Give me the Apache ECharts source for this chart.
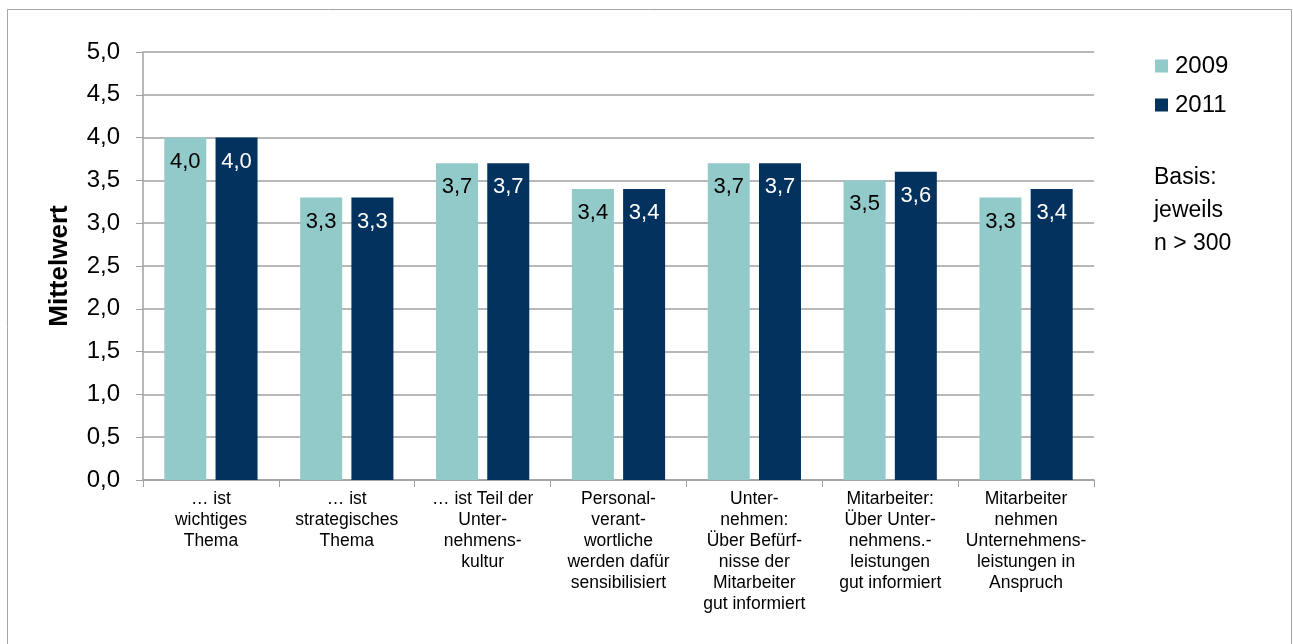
<!DOCTYPE html>
<html>
<head>
<meta charset="utf-8">
<script src="https://cdn.jsdelivr.net/npm/echarts@6/dist/echarts.min.js"></script>
<style>
	html, body { margin: 0; padding: 0; background: #fff; }
	#main { width: 1293px; height: 644px; }
</style>
</head>
<body>
<div id="main"></div>
<script>
var categories = [
	'… ist\nwichtiges\nThema',
	'… ist\nstrategisches\nThema',
	'… ist Teil der\nUnter-\nnehmens-\nkultur',
	'Personal-\nverant-\nwortliche\nwerden dafür\nsensibilisiert',
	'Unter-\nnehmen:\nÜber Befürf-\nnisse der\nMitarbeiter\ngut informiert',
	'Mitarbeiter:\nÜber Unter-\nnehmens.-\nleistungen\ngut informiert',
	'Mitarbeiter\nnehmen\nUnternehmens-\nleistungen in\nAnspruch'
];
var values2009 = [4.0, 3.3, 3.7, 3.4, 3.7, 3.5, 3.3];
var values2011 = [4.0, 3.3, 3.7, 3.4, 3.7, 3.6, 3.4];
var yTicks = { min: 0, max: 5, step: 0.5 };

function fmt(v) {
	return v.toFixed(1).replace('.', ',');
}

var myChart = echarts.init(document.getElementById('main'));
var font = 'Liberation Sans, Arial, sans-serif';
var option = {
	animation: false,
	textStyle: { fontFamily: font },
	graphic: [{
		type: 'rect',
		shape: { x: 7.5, y: 9.5, width: 1284, height: 660 },
		style: { fill: 'none', stroke: '#a6a6a6', lineWidth: 1 },
		silent: true
	}, {
		type: 'text',
		left: 1154,
		top: 161,
		style: {
			text: 'Basis:\njeweils\nn > 300',
			font: '23px ' + font,
			lineHeight: 33,
			fill: '#000'
		}
	}],
	legend: {
		orient: 'vertical',
		left: 1150,
		top: 49,
		itemWidth: 13,
		itemHeight: 13,
		itemGap: 15,
		icon: 'rect',
		textStyle: { fontSize: 24, color: '#000', padding: [0, 0, 0, 2] },
		data: ['2009', '2011']
	},
	grid: { left: 143, right: 199, top: 52, bottom: 164 },
	xAxis: {
		type: 'category',
		data: categories,
		axisLine: { lineStyle: { color: '#a0a0a0', width: 1.5 } },
		axisTick: { show: true, length: 7, lineStyle: { color: '#a0a0a0' } },
		axisLabel: {
			interval: 0,
			fontSize: 17.5,
			lineHeight: 21,
			color: '#000',
			margin: 9,
			align: 'center'
		}
	},
	yAxis: {
		type: 'value',
		min: yTicks.min,
		max: yTicks.max,
		interval: yTicks.step,
		name: 'Mittelwert',
		nameLocation: 'middle',
		nameGap: 70,
		nameTextStyle: { fontSize: 26, fontWeight: 'bold', color: '#000' },
		axisLine: { show: true, lineStyle: { color: '#a0a0a0', width: 1.5 } },
		axisTick: { show: true, length: 7, lineStyle: { color: '#a0a0a0' } },
		axisLabel: { fontSize: 24, color: '#000', margin: 23, formatter: fmt },
		splitLine: { lineStyle: { color: '#a0a0a0', width: 1.5 } }
	},
	series: [{
		name: '2009',
		type: 'bar',
		data: values2009,
		barWidth: 42,
		barGap: '22%',
		itemStyle: { color: '#92c9c9' },
		label: {
			show: true,
			position: 'insideTop',
			distance: 13,
			fontSize: 22,
			color: '#000',
			formatter: function (p) { return fmt(p.value); }
		}
	}, {
		name: '2011',
		type: 'bar',
		data: values2011,
		barWidth: 42,
		itemStyle: { color: '#03325f' },
		label: {
			show: true,
			position: 'insideTop',
			distance: 13,
			fontSize: 22,
			color: '#fff',
			formatter: function (p) { return fmt(p.value); }
		}
	}]
};
myChart.setOption(option);
</script>
</body>
</html>
